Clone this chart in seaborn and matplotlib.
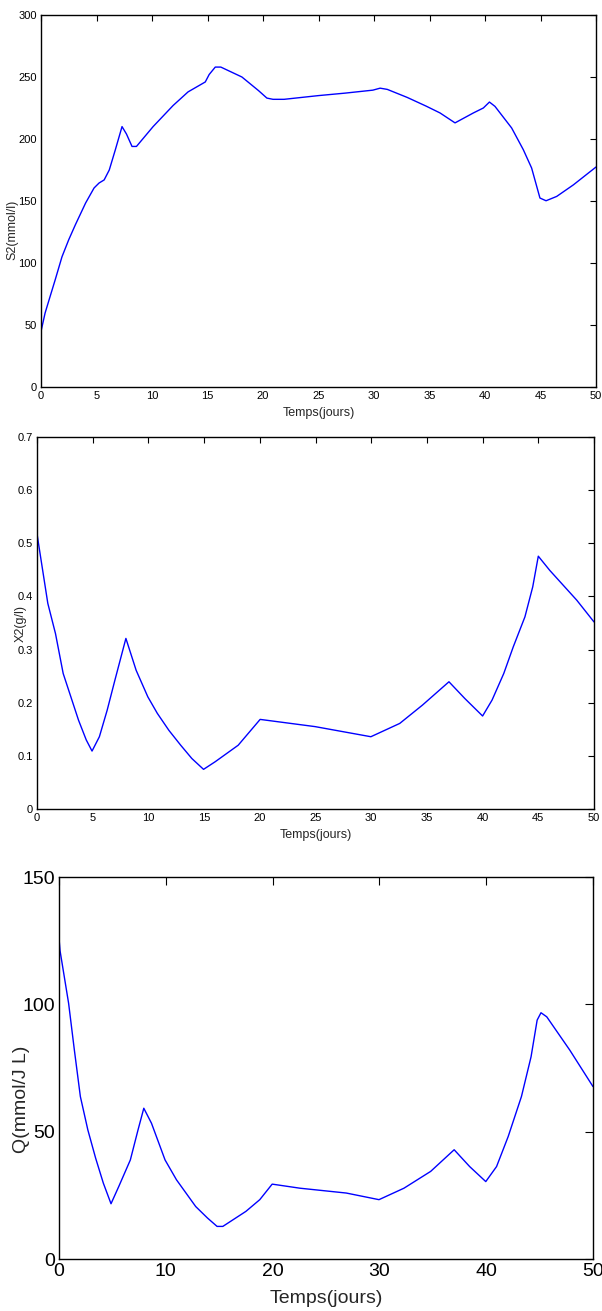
import matplotlib
matplotlib.use("Agg")
import matplotlib.pyplot as plt
import seaborn as sns
import pandas as pd

# ---- data ----
t_s2 = [0, 0.37, 0.82, 1.28, 1.89, 2.5, 3.1, 4.02, 4.78, 5.23, 5.69, 6.15, 6.7, 7.3, 7.7, 8.2, 8.6,
        10.1, 11.9, 13.25, 14.8, 15.15, 15.7, 16.2, 18.1, 19.6, 20.35, 20.9, 21.9, 25, 27.4, 29.9,
        30.55, 31.2, 33, 34.7, 35.95, 37.3, 38.95, 39.85, 40.4, 40.9, 42.4, 43.45, 44.2, 44.95, 45.5,
        46.46, 47.96, 50]
s2 = [44.8, 59.7, 73, 86.5, 105, 118.8, 130.9, 148.4, 160.5, 164.5, 167, 175, 191.4, 210, 204, 194, 194,
      210, 227, 238, 246, 252, 258, 258, 250, 239, 233, 232, 232, 235, 237, 239.4,
      241, 240, 233.5, 226.5, 221, 213, 221, 225, 229.8, 226.3, 208.9, 191.4, 176.6, 152.4, 150.2,
      153.7, 163, 177.4]

t_x2 = [0, 0.28, 0.97, 1.66, 2.35, 3.04, 3.73, 4.42, 4.94, 5.6, 6.3, 7.0, 7.98, 8.9, 9.95, 10.8, 11.84,
        12.9, 13.9, 14.95, 16, 18.06, 20.03, 24.97, 29.97, 32.56, 34.6, 36.98, 38.4, 40, 40.85, 41.9,
        42.75, 43.8, 44.5, 45, 46.03, 48.45, 50]
x2 = [0.518, 0.48, 0.387, 0.33, 0.255, 0.211, 0.167, 0.13, 0.109, 0.136, 0.186, 0.243, 0.321, 0.261,
      0.211, 0.18, 0.148, 0.12, 0.095, 0.0746, 0.089, 0.12, 0.1686, 0.155, 0.136, 0.161, 0.1955, 0.2394,
      0.208, 0.175, 0.205, 0.255, 0.305, 0.3616, 0.418, 0.4757, 0.449, 0.393, 0.352]

t_q = [0, 0.1, 0.9, 1.44, 2.0, 2.7, 3.43, 4.15, 4.87, 5.6, 6.68, 7.4, 7.94, 8.66, 9.93, 11.0, 12.8, 13.9,
       14.8, 15.34, 17.5, 18.8, 19.96, 22.56, 26.9, 29.96, 32.3, 34.8, 37, 38.45, 39.96, 40.97, 42.06,
       43.3, 44.2, 44.77, 45.13, 45.67, 47.83, 50]
q = [126, 121, 100.4, 82, 63.8, 50.7, 39.6, 29.8, 21.7, 28.5, 38.9, 50.7, 59.2, 53.3, 38.9, 31.1, 20.6,
     16.1, 12.8, 12.8, 18.7, 23.3, 29.4, 27.8, 25.9, 23.3, 27.8, 34.4, 42.9, 36.3, 30.4, 36.3, 48.1,
     63.8, 79.4, 93.8, 96.7, 95.1, 82, 67.7]

xlabel = "Temps(jours)"
ylabels = ["S2(mmol/l)", "X2(g/l)", "Q(mmol/J L)"]

sns.set_style("white")
plt.rcParams['font.family'] = ['Liberation Sans Narrow', 'Liberation Sans', 'DejaVu Sans']

fig = plt.figure(figsize=(6.02, 13.11), dpi=100)
rects = [
    [41/602, 1-387/1311, (596-41)/602, (387-15)/1311],
    [37/602, 1-809/1311, (594-37)/602, (809-437)/1311],
    [59/602, 1-1259/1311, (593-59)/602, (1259-877)/1311],
]
datas = [(t_s2, s2), (t_x2, x2), (t_q, q)]
ylims = [(0, 300), (0, 0.7), (0, 150)]
yticks = [[0, 50, 100, 150, 200, 250, 300],
          [0, 0.1, 0.2, 0.3, 0.4, 0.5, 0.6, 0.7],
          [0, 50, 100, 150]]
xticks = [list(range(0, 51, 5)), list(range(0, 51, 5)), list(range(0, 51, 10))]
ytl = [[str(v) for v in yticks[0]], ["0"] + [f"{v:.1f}" for v in yticks[1][1:]], [str(v) for v in yticks[2]]]
tick_fs = [8, 8, 14]
lab_fs = [9, 9, 14]
tick_len = [4, 4, 6]
xlab_pad = [4, 4, 7]
ylab_coords = [(-0.041, 0.422), (-0.018, 0.5), (-0.054, 0.419)]

for i, (r, (tx, ty)) in enumerate(zip(rects, datas)):
    ax = fig.add_axes(r)
    df = pd.DataFrame({"t": tx, "v": ty})
    sns.lineplot(data=df, x="t", y="v", ax=ax, color="#0000ff", linewidth=1.0,
                 sort=False, estimator=None)
    ax.set_xlim(0, 50)
    ax.set_ylim(*ylims[i])
    ax.set_xticks(xticks[i])
    ax.set_yticks(yticks[i])
    ax.set_yticklabels(ytl[i])
    ax.tick_params(direction="in", top=True, right=True, length=tick_len[i], width=0.8,
                   labelsize=tick_fs[i], colors="black", pad=3)
    for s in ax.spines.values():
        s.set_color("black")
        s.set_linewidth(1.0)
    ax.set_xlabel(xlabel, fontsize=lab_fs[i], labelpad=xlab_pad[i])
    ax.set_ylabel(ylabels[i], fontsize=lab_fs[i])
    ax.yaxis.set_label_coords(*ylab_coords[i])

fig.savefig("out.png", dpi=100, facecolor="white")
